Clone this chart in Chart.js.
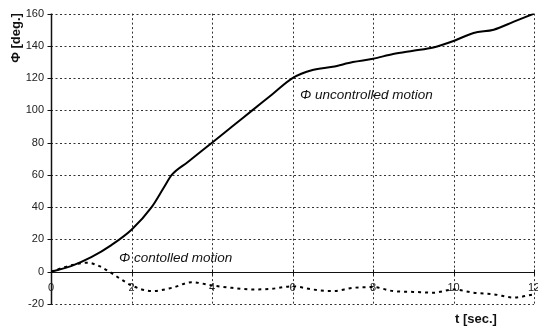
<!DOCTYPE html>
<html>
<head>
<meta charset="utf-8">
<script src="https://cdn.jsdelivr.net/npm/chart.js@4/dist/chart.umd.min.js"></script>
<style>
html,body{margin:0;padding:0;background:#fff;}
#wrap{width:538px;height:333px;position:relative;}
</style>
</head>
<body>
<div id="wrap"><canvas id="c" width="538" height="333"></canvas></div>
<script>
// Data
const tUncontrolled = [0,0.5,1,1.5,2,2.5,2.8,3,3.4,4,4.5,5,5.5,6,6.5,7,7.5,8,8.5,9,9.5,10,10.5,11,11.5,12];
const phiUncontrolled = [0,3.5,9,16.5,26,40,52,60,68,80,90,100,110,120,125,127,130,132,135,137,139,143,148,150,155,160];
const tControlled = [0,0.5,0.9,1.2,1.45,1.7,2,2.5,3,3.5,4,4.5,5,5.5,6,6.5,7,7.5,8,8.5,9,9.5,10,10.5,11,11.5,12];
const phiControlled = [0,4,5.6,3.5,0,-4,-8.5,-12,-10,-6.5,-8.5,-10,-11,-10.5,-9,-11,-12,-10,-9.5,-12,-12.5,-13,-11,-13,-14,-16,-14];
const xTicks = [0,2,4,6,8,10,12];
const yTicks = [-20,0,20,40,60,80,100,120,140,160];
const labelUncontrolled = "\u03A6 uncontrolled motion";
const labelControlled = "\u03A6 contolled motion";
const xTitle = "t [sec.]";
const yTitle = "\u03A6 [deg.]";

const FONT = "'Liberation Sans', Arial, sans-serif";

const decor = {
  id: 'decor',
  beforeDatasetsDraw(chart) {
    const ctx = chart.ctx, a = chart.chartArea;
    const xs = chart.scales.x, ys = chart.scales.y;
    ctx.save();
    ctx.strokeStyle = '#333';
    ctx.lineWidth = 1;
    ctx.setLineDash([2, 2.5]);
    yTicks.forEach(v => {
      if (v === 0) return;
      const y = Math.round(ys.getPixelForValue(v)) + 0.5;
      ctx.beginPath(); ctx.moveTo(a.left, y); ctx.lineTo(a.right, y); ctx.stroke();
    });
    xTicks.forEach(v => {
      if (v === 0) return;
      const x = Math.round(xs.getPixelForValue(v)) + 0.5;
      ctx.beginPath(); ctx.moveTo(x, a.top); ctx.lineTo(x, a.bottom); ctx.stroke();
    });
    ctx.setLineDash([]);
    ctx.strokeStyle = '#111';
    // zero line
    const y0 = Math.round(ys.getPixelForValue(0)) + 0.5;
    ctx.beginPath(); ctx.moveTo(a.left, y0); ctx.lineTo(a.right, y0); ctx.stroke();
    // small ticks on zero line
    xTicks.forEach(v => {
      const x = Math.round(xs.getPixelForValue(v)) + 0.5;
      ctx.beginPath(); ctx.moveTo(x, y0 - 3); ctx.lineTo(x, y0 + 3); ctx.stroke();
    });
    // y axis line
    ctx.lineWidth = 1.5;
    const x0 = Math.round(a.left) + 0.5;
    ctx.beginPath(); ctx.moveTo(x0, a.top); ctx.lineTo(x0, a.bottom); ctx.stroke();
    ctx.lineWidth = 1;
    yTicks.forEach(v => {
      const y = Math.round(ys.getPixelForValue(v)) + 0.5;
      ctx.beginPath(); ctx.moveTo(x0 - 4, y); ctx.lineTo(x0, y); ctx.stroke();
    });
    // x tick labels below zero line
    ctx.fillStyle = '#222';
    ctx.font = '11px ' + FONT;
    ctx.textAlign = 'center';
    ctx.textBaseline = 'middle';
    xTicks.forEach(v => {
      ctx.fillText(String(v), xs.getPixelForValue(v), y0 + 15);
    });
    ctx.restore();
  },
  afterDraw(chart) {
    const ctx = chart.ctx;
    ctx.save();
    ctx.fillStyle = '#111';
    ctx.font = 'italic 13.5px ' + FONT;
    ctx.textAlign = 'left';
    ctx.textBaseline = 'middle';
    ctx.fillText(labelUncontrolled, 300, 95);
    ctx.fillText(labelControlled, 119, 258);
    ctx.font = 'bold 13px ' + FONT;
    ctx.textAlign = 'center';
    ctx.fillText(xTitle, 476, 319);
    ctx.translate(16, 38);
    ctx.rotate(-Math.PI / 2);
    ctx.fillText(yTitle, 0, 0);
    ctx.restore();
  }
};

new Chart(document.getElementById('c'), {
  type: 'line',
  data: {
    datasets: [
      {
        data: tUncontrolled.map((t, i) => ({x: t, y: phiUncontrolled[i]})),
        borderColor: '#000',
        borderWidth: 2,
        pointRadius: 0,
        cubicInterpolationMode: 'monotone',
        fill: false
      },
      {
        data: tControlled.map((t, i) => ({x: t, y: phiControlled[i]})),
        borderColor: '#000',
        borderWidth: 2,
        borderDash: [3, 4],
        pointRadius: 0,
        cubicInterpolationMode: 'monotone',
        fill: false
      }
    ]
  },
  options: {
    responsive: false,
    animation: false,
    layout: {padding: {top: 13, right: 4, bottom: 29, left: 0}},
    plugins: {legend: {display: false}, tooltip: {enabled: false}},
    scales: {
      x: {type: 'linear', min: 0, max: 12, display: false},
      y: {
        min: -20, max: 160,
        afterFit(s) { s.width = 51; },
        afterBuildTicks(s) { s.ticks = yTicks.map(v => ({value: v})); },
        grid: {display: false, drawTicks: false},
        border: {display: false},
        ticks: {color: '#222', font: {size: 11, family: FONT}, padding: 7}
      }
    }
  },
  plugins: [decor]
});
</script>
</body>
</html>
